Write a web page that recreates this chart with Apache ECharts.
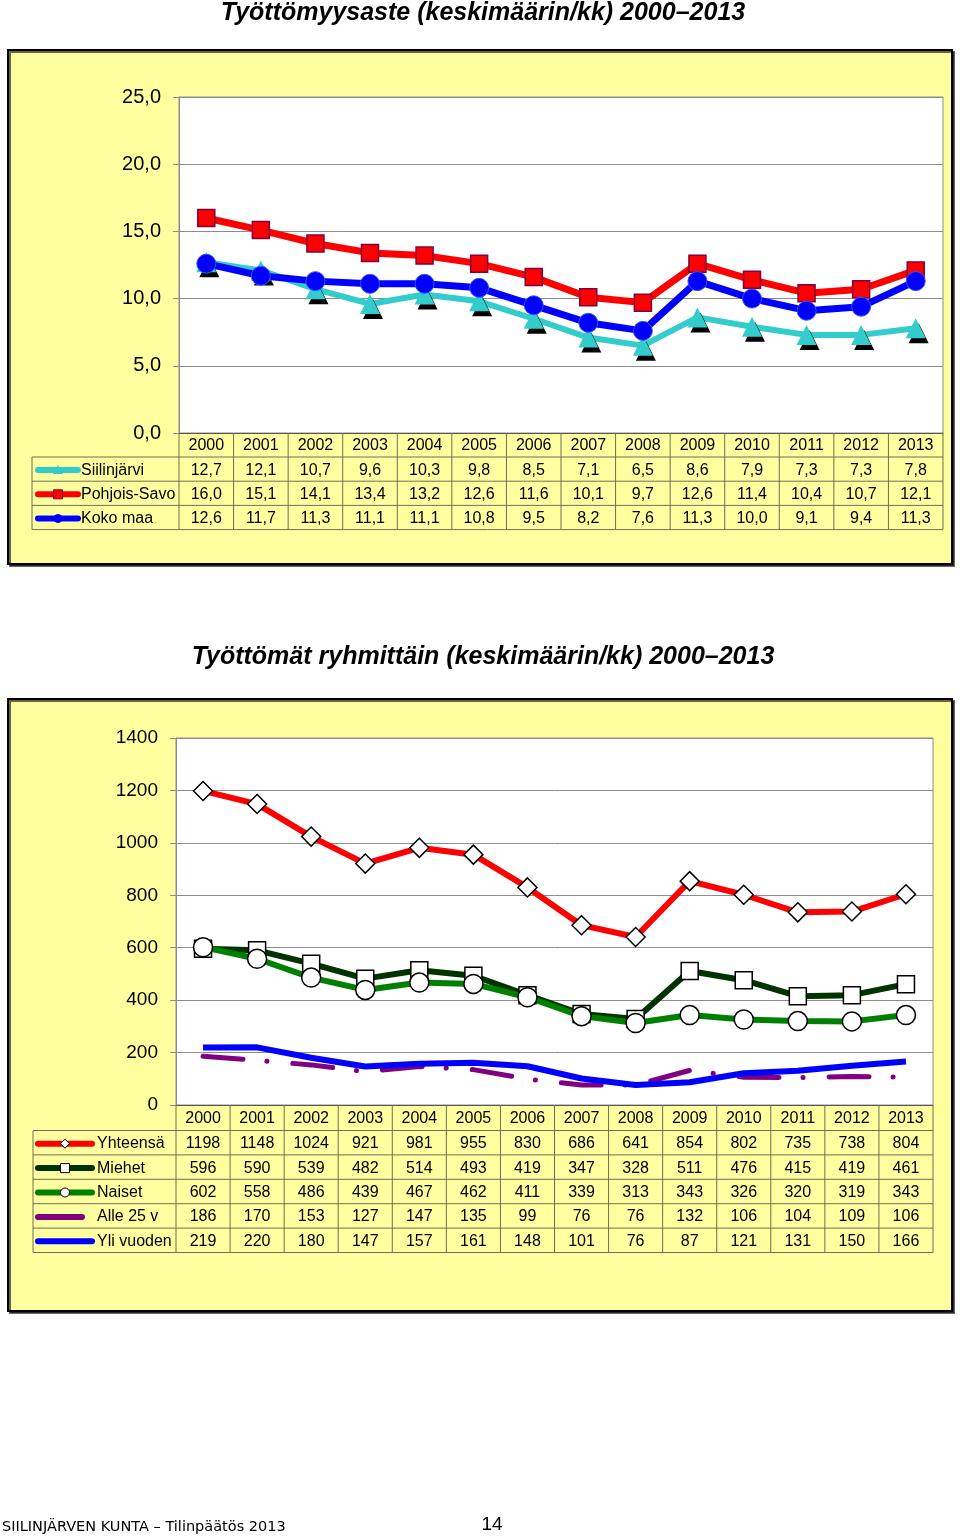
<!DOCTYPE html>
<html>
<head>
<meta charset="utf-8">
<title>Työttömyys 2000–2013</title>
<script src="https://cdn.jsdelivr.net/npm/echarts@6/dist/echarts.min.js"></script>
<style>
  html, body { margin: 0; padding: 0; background: #fff; }
  #main { width: 960px; height: 1537px; }
</style>
</head>
<body>
<div id="main"></div>
<script>
// vuodet
const years = ['2000', '2001', '2002', '2003', '2004', '2005', '2006', '2007', '2008', '2009', '2010', '2011', '2012', '2013'];

// työttömyysaste %
const siilinjarvi = [12.7, 12.1, 10.7, 9.6, 10.3, 9.8, 8.5, 7.1, 6.5, 8.6, 7.9, 7.3, 7.3, 7.8];
const pohjoisSavo = [16.0, 15.1, 14.1, 13.4, 13.2, 12.6, 11.6, 10.1, 9.7, 12.6, 11.4, 10.4, 10.7, 12.1];
const kokoMaa = [12.6, 11.7, 11.3, 11.1, 11.1, 10.8, 9.5, 8.2, 7.6, 11.3, 10.0, 9.1, 9.4, 11.3];

// työttömät ryhmittäin
const yhteensa = [1198, 1148, 1024, 921, 981, 955, 830, 686, 641, 854, 802, 735, 738, 804];
const miehet = [596, 590, 539, 482, 514, 493, 419, 347, 328, 511, 476, 415, 419, 461];
const naiset = [602, 558, 486, 439, 467, 462, 411, 339, 313, 343, 326, 320, 319, 343];
const alle25 = [186, 170, 153, 127, 147, 135, 99, 76, 76, 132, 106, 104, 109, 106];
const yliVuoden = [219, 220, 180, 147, 157, 161, 148, 101, 76, 87, 121, 131, 150, 166];

const yellow = '#FFFFA0'
const gridGray = '#8c8c8c'
const tableLine = '#6e6e5a'

// sarjojen tyylit (taulukon selitteitä varten myös)
const rateSeries = [
    { name: 'Siilinjärvi', data: siilinjarvi, color: '#33CCCC', symbol: 'triangle' },
    { name: 'Pohjois-Savo', data: pohjoisSavo, color: '#FF0000', symbol: 'rect' },
    { name: 'Koko maa', data: kokoMaa, color: '#0000FF', symbol: 'circle' }
]
const groupSeries = [
    { name: 'Yhteensä', data: yhteensa, color: '#FF0000', symbol: 'diamond' },
    { name: 'Miehet', data: miehet, color: '#003300', symbol: 'rect' },
    { name: 'Naiset', data: naiset, color: '#008000', symbol: 'circle' },
    { name: 'Alle 25 v', data: alle25, color: '#800080', symbol: 'none' },
    { name: 'Yli vuoden', data: yliVuoden, color: '#0000FF', symbol: 'none' }
]

const fmtRate = v => v.toFixed(1).replace('.', ',')
const fmtCount = v => String(v)

var myChart = echarts.init(document.getElementById('main'), null, { renderer: 'canvas' });

const axisFont = { fontFamily: 'Liberation Sans, Arial, sans-serif', color: '#000' }

myChart.setOption({
    animation: false,
    grid: [
        { left: 179, right: 17, top: 97, height: 336, show: true, backgroundColor: '#fff', borderColor: gridGray, borderWidth: 1 },
        { left: 176, right: 27, top: 738, height: 367, show: true, backgroundColor: '#fff', borderColor: gridGray, borderWidth: 1 }
    ],
    xAxis: [
        { type: 'category', gridIndex: 0, data: years, boundaryGap: true,
          axisLine: { lineStyle: { color: '#555', width: 1 } }, axisTick: { show: false }, axisLabel: { show: false } },
        { type: 'category', gridIndex: 1, data: years, boundaryGap: true,
          axisLine: { lineStyle: { color: '#555', width: 1 } }, axisTick: { show: false }, axisLabel: { show: false } }
    ],
    yAxis: [
        { type: 'value', gridIndex: 0, min: 0, max: 25, interval: 5,
          axisLine: { show: true, lineStyle: { color: gridGray } },
          axisTick: { show: true, length: 6, lineStyle: { color: gridGray } },
          splitLine: { lineStyle: { color: gridGray, width: 1 } },
          axisLabel: Object.assign({ fontSize: 20, margin: 18, formatter: fmtRate }, axisFont) },
        { type: 'value', gridIndex: 1, min: 0, max: 1400, interval: 200,
          axisLine: { show: true, lineStyle: { color: gridGray } },
          axisTick: { show: true, length: 6, lineStyle: { color: gridGray } },
          splitLine: { lineStyle: { color: gridGray, width: 1 } },
          axisLabel: Object.assign({ fontSize: 19, margin: 18, formatter: fmtCount }, axisFont) }
    ],
    series: [
        {
            name: 'Siilinjärvi', type: 'line', xAxisIndex: 0, yAxisIndex: 0, data: siilinjarvi,
            symbol: 'triangle', symbolSize: 20,
            lineStyle: { color: '#33CCCC', width: 6 },
            itemStyle: { color: '#33CCCC', shadowColor: '#000', shadowOffsetX: 3, shadowOffsetY: 5, shadowBlur: 0 }
        },
        {
            name: 'Pohjois-Savo', type: 'line', xAxisIndex: 0, yAxisIndex: 0, data: pohjoisSavo,
            symbol: 'rect', symbolSize: 17,
            lineStyle: { color: '#FF0000', width: 7 },
            itemStyle: { color: '#FF0000', borderColor: '#800040', borderWidth: 1.5 }
        },
        {
            name: 'Koko maa', type: 'line', xAxisIndex: 0, yAxisIndex: 0, data: kokoMaa,
            symbol: 'circle', symbolSize: 19,
            lineStyle: { color: '#0000FF', width: 7 },
            itemStyle: { color: '#0000FF', borderColor: '#3355ff', borderWidth: 1 }
        },
        {
            name: 'Yhteensä', type: 'line', xAxisIndex: 1, yAxisIndex: 1, data: yhteensa,
            symbol: 'diamond', symbolSize: 19,
            lineStyle: { color: '#FF0000', width: 6 },
            itemStyle: { color: '#fff', borderColor: '#000', borderWidth: 1.5 }
        },
        {
            name: 'Miehet', type: 'line', xAxisIndex: 1, yAxisIndex: 1, data: miehet,
            symbol: 'rect', symbolSize: 17,
            lineStyle: { color: '#003300', width: 6 },
            itemStyle: { color: '#fff', borderColor: '#000', borderWidth: 1.5 }
        },
        {
            name: 'Naiset', type: 'line', xAxisIndex: 1, yAxisIndex: 1, data: naiset,
            symbol: 'circle', symbolSize: 19,
            lineStyle: { color: '#008000', width: 6 },
            itemStyle: { color: '#fff', borderColor: '#000', borderWidth: 1.5 }
        },
        {
            name: 'Alle 25 v', type: 'line', xAxisIndex: 1, yAxisIndex: 1, data: alle25,
            symbol: 'none',
            lineStyle: { color: '#800080', width: 5, type: [40, 24, 0.1, 26], cap: 'round' }
        },
        {
            name: 'Yli vuoden', type: 'line', xAxisIndex: 1, yAxisIndex: 1, data: yliVuoden,
            symbol: 'none',
            lineStyle: { color: '#0000FF', width: 6 }
        }
    ]
});

/**
 * taulukko kaavion alle
 */
function buildTable(axisIdx, list, top, headH, rowH, left, legendLine, textX, fmt) {
    let els = []
    let cx = years.map(y => myChart.convertToPixel({ xAxisIndex: axisIdx }, y))
    let colW = cx[1] - cx[0]
    let x0 = cx[0] - colW / 2
    let x1 = cx[cx.length - 1] + colW / 2
    let bottom = top + headH + rowH * list.length

    // vaakaviivat
    for (let r = 0; r <= list.length; r++) {
        let y = top + headH + r * rowH
        els.push({ type: 'line', z: 5, shape: { x1: left, y1: y, x2: x1, y2: y }, style: { stroke: tableLine, lineWidth: 1 } })
    }
    // pystyviivat
    els.push({ type: 'line', z: 5, shape: { x1: left, y1: top + headH, x2: left, y2: bottom }, style: { stroke: tableLine, lineWidth: 1 } })
    for (let i = 0; i <= years.length; i++) {
        let x = x0 + i * colW
        els.push({ type: 'line', z: 5, shape: { x1: x, y1: top, x2: x, y2: bottom }, style: { stroke: tableLine, lineWidth: 1 } })
    }
    // vuosiotsikot
    years.forEach((y, i) => {
        els.push({ type: 'text', z: 6, style: { text: y, x: cx[i], y: top + headH / 2 + 1, align: 'center', verticalAlign: 'middle',
            font: '16px "Liberation Sans", Arial, sans-serif', fill: '#000' } })
    })
    // rivit
    list.forEach((s, r) => {
        let yc = top + headH + r * rowH + rowH / 2 + 1
        s.data.forEach((v, i) => {
            els.push({ type: 'text', z: 6, style: { text: fmt(v), x: cx[i], y: yc, align: 'center', verticalAlign: 'middle',
                font: '16px "Liberation Sans", Arial, sans-serif', fill: '#000' } })
        })
        // selite
        let lx1 = legendLine[0], lx2 = legendLine[1]
        let lineStyle = { stroke: s.color, lineWidth: 6, lineCap: 'round' }
        if (s.name == 'Alle 25 v') { lx2 = legendLine[1] - 10 }
        els.push({ type: 'line', z: 6, shape: { x1: lx1, y1: yc, x2: lx2, y2: yc }, style: lineStyle })
        let mx = (legendLine[0] + legendLine[1]) / 2
        if (s.symbol == 'triangle') {
            els.push({ type: 'polygon', z: 7, shape: { points: [[mx, yc - 5], [mx - 5, yc + 4], [mx + 5, yc + 4]] }, style: { fill: s.color } })
        } else if (s.symbol == 'rect') {
            let filled = axisIdx == 0
            els.push({ type: 'rect', z: 7, shape: { x: mx - 4.5, y: yc - 4.5, width: 9, height: 9 },
                style: { fill: filled ? s.color : '#fff', stroke: filled ? '#800040' : '#000', lineWidth: 1 } })
        } else if (s.symbol == 'circle') {
            let filled = axisIdx == 0
            els.push({ type: 'circle', z: 7, shape: { cx: mx, cy: yc, r: filled ? 4 : 4.5 },
                style: { fill: filled ? s.color : '#fff', stroke: filled ? s.color : '#000', lineWidth: 1 } })
        } else if (s.symbol == 'diamond') {
            els.push({ type: 'polygon', z: 7, shape: { points: [[mx, yc - 4.5], [mx + 4.5, yc], [mx, yc + 4.5], [mx - 4.5, yc]] },
                style: { fill: '#fff', stroke: '#000', lineWidth: 1 } })
        }
        els.push({ type: 'text', z: 6, style: { text: s.name, x: textX, y: yc, align: 'left', verticalAlign: 'middle',
            font: '16px "Liberation Sans", Arial, sans-serif', fill: '#000' } })
    })
    return els
}

let graphics = [
    // taustalaatikot
    { type: 'rect', z: -1, shape: { x: 8, y: 50, width: 944, height: 514 },
      style: { fill: yellow, stroke: '#000', lineWidth: 2, shadowColor: 'rgba(0,0,0,0.6)', shadowOffsetX: 2, shadowOffsetY: 2 } },
    { type: 'rect', z: -1, shape: { x: 8, y: 699, width: 944, height: 612 },
      style: { fill: yellow, stroke: '#000', lineWidth: 2, shadowColor: 'rgba(0,0,0,0.6)', shadowOffsetX: 2, shadowOffsetY: 2 } },
    // otsikot
    { type: 'text', z: 5, style: { text: 'Työttömyysaste (keskimäärin/kk) 2000–2013', x: 483, y: 13, align: 'center', verticalAlign: 'middle',
      font: 'italic bold 25px "Liberation Sans Narrow", "Liberation Sans", Arial, sans-serif', fill: '#000' } },
    { type: 'text', z: 5, style: { text: 'Työttömät ryhmittäin (keskimäärin/kk) 2000–2013', x: 483, y: 657, align: 'center', verticalAlign: 'middle',
      font: 'italic bold 25px "Liberation Sans Narrow", "Liberation Sans", Arial, sans-serif', fill: '#000' } },
    // alatunniste
    { type: 'text', z: 5, style: { text: 'SIILINJÄRVEN KUNTA – Tilinpäätös 2013', x: 2, y: 1527, align: 'left', verticalAlign: 'middle',
      font: '14.5px "DejaVu Sans", Verdana, sans-serif', fill: '#000' } },
    { type: 'text', z: 5, style: { text: '14', x: 492, y: 1525, align: 'center', verticalAlign: 'middle',
      font: '19px "Liberation Sans", Arial, sans-serif', fill: '#000' } }
]

graphics = graphics.concat(buildTable(0, rateSeries, 433, 24, 24.2, 32, [38, 78], 81, fmtRate))
graphics = graphics.concat(buildTable(1, groupSeries, 1105, 25.5, 24.4, 33, [38, 92], 97, fmtCount))

myChart.setOption({ graphic: graphics })
</script>
</body>
</html>
